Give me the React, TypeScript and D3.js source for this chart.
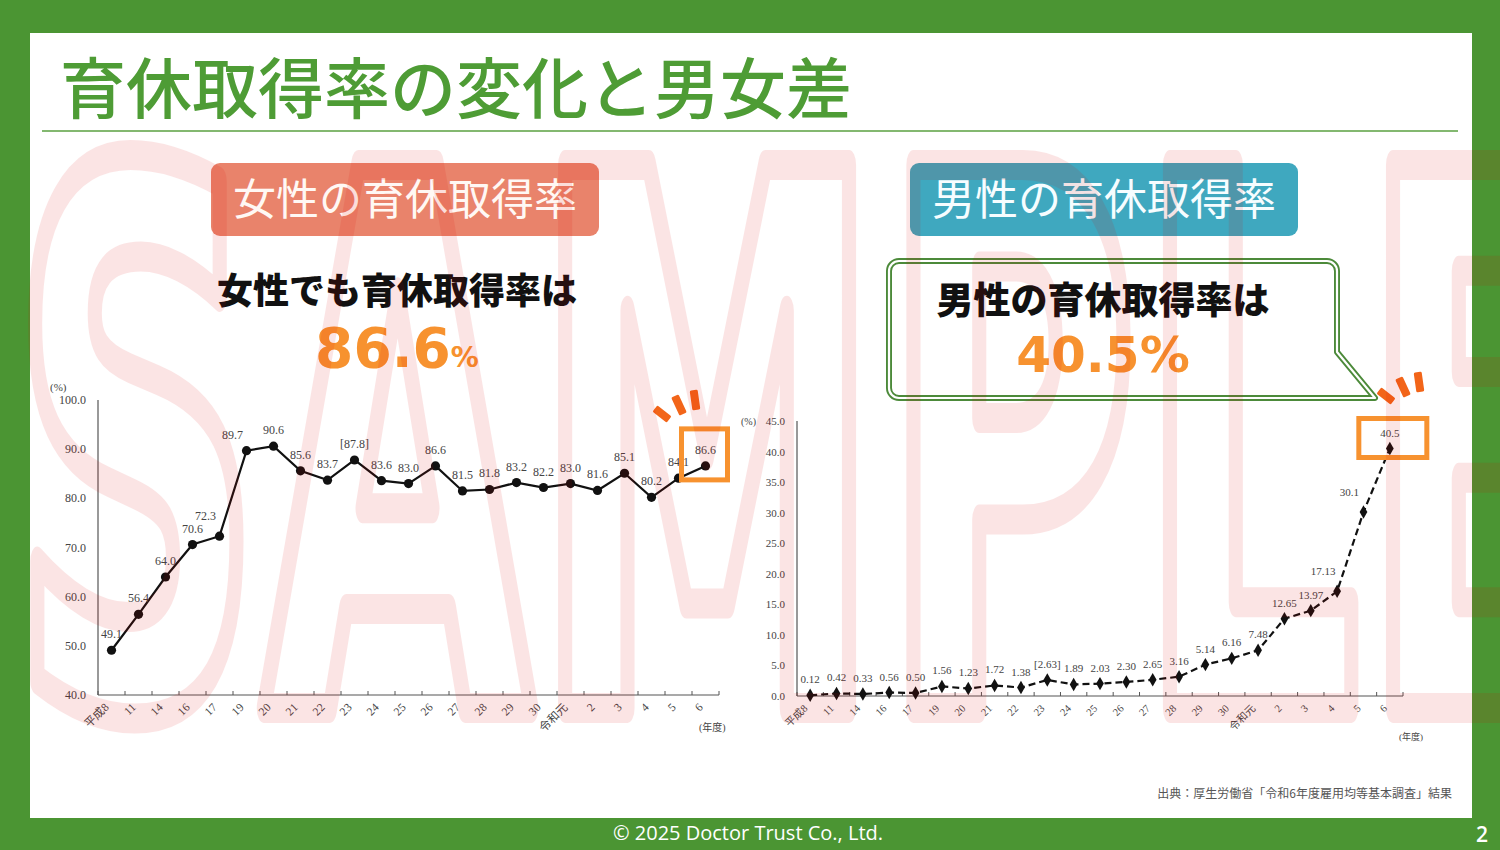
import React from "react";
import * as d3 from "d3";

// ---------- data ----------
const femaleYears = ["平成8","11","14","16","17","19","20","21","22","23","24","25","26","27","28","29","30","令和元","2","3","4","5","6"];
const femaleRates = [49.1,56.4,64.0,70.6,72.3,89.7,90.6,85.6,83.7,87.8,83.6,83.0,86.6,81.5,81.8,83.2,82.2,83.0,81.6,85.1,80.2,84.1,86.6];
const femaleLabels = ["49.1","56.4","64.0","70.6","72.3","89.7","90.6","85.6","83.7","[87.8]","83.6","83.0","86.6","81.5","81.8","83.2","82.2","83.0","81.6","85.1","80.2","84.1","86.6"];
const femaleTicks = [40,50,60,70,80,90,100];

const maleYears = ["平成8","11","14","16","17","19","20","21","22","23","24","25","26","27","28","29","30","令和元","2","3","4","5","6"];
const maleRates = [0.12,0.42,0.33,0.56,0.50,1.56,1.23,1.72,1.38,2.63,1.89,2.03,2.30,2.65,3.16,5.14,6.16,7.48,12.65,13.97,17.13,30.1,40.5];
const maleLabels = ["0.12","0.42","0.33","0.56","0.50","1.56","1.23","1.72","1.38","[2.63]","1.89","2.03","2.30","2.65","3.16","5.14","6.16","7.48","12.65","13.97","17.13","30.1","40.5"];
const maleTicks = [0,5,10,15,20,25,30,35,40,45];

const W = 1500, H = 850;
const GREEN = "#4b9533";
const ORANGE = "#f7922f";
const BURST = "#f26519";
const SERIF = "'Liberation Serif','DejaVu Serif','Noto Sans CJK JP',serif";
const CJK = "'Noto Sans CJK JP','Noto Sans',sans-serif";

type ChartProps = {
  years: string[]; values: number[]; labels: string[]; ticks: number[];
  x: d3.ScaleBand<number>; y: d3.ScaleLinear<number, number>;
  dashed: boolean; diamond: boolean; fs: number;
  pctX: number; pctY: number; nendoX: number; nendoY: number;
};

function LineChart(p: ChartProps) {
  const { x, y } = p;
  const [x0, x1] = x.range();
  const [yb, yt] = y.range();
  const n = p.values.length;
  const cx = (i: number) => (x(i) as number) + x.bandwidth() / 2;
  const line = d3.line<number>().x((_, i) => cx(i)).y((d) => y(d));
  const diamond = d3.symbol().type(d3.symbolDiamond).size(52)() as string;
  return (
    <g>
      {/* axes */}
      <line x1={x0} x2={x0} y1={yt} y2={yb} stroke="#555" strokeWidth={1.2} />
      <line x1={x0} x2={x1} y1={yb} y2={yb} stroke="#555" strokeWidth={1.2} />
      {d3.range(n + 1).map((i) => {
        const xx = i < n ? (x(i) as number) : x1;
        return <line key={"t" + i} x1={xx} x2={xx} y1={yb} y2={yb - 4} stroke="#555" strokeWidth={1} />;
      })}
      {p.ticks.map((t) => (
        <text key={"y" + t} x={x0 - 12} y={y(t) + 4} textAnchor="end" fontFamily={SERIF} fontSize={p.fs} fill="#444">
          {t.toFixed(1)}
        </text>
      ))}
      {p.years.map((lab, i) => (
        <text key={"x" + i} transform={`translate(${cx(i) - 2},${yb + 13}) rotate(-45)`} textAnchor="end"
          fontFamily={SERIF} fontSize={p.fs - 0.5} fill="#444">{lab}</text>
      ))}
      <text x={p.pctX} y={p.pctY} fontFamily={SERIF} fontSize={p.fs - 1} fill="#444">(%)</text>
      <text x={p.nendoX} y={p.nendoY} fontFamily={SERIF} fontSize={p.fs - 2} fill="#444">(年度)</text>
      {/* line */}
      <path d={line(p.values) as string} fill="none" stroke="#111" strokeWidth={2.2}
        strokeDasharray={p.dashed ? "7,4" : undefined} />
      {p.values.map((v, i) =>
        p.diamond ? (
          <path key={"m" + i} d={diamond} transform={`translate(${cx(i)},${y(v)})`} fill="#111" />
        ) : (
          <circle key={"m" + i} cx={cx(i)} cy={y(v)} r={4.6} fill="#111" />
        )
      )}
      {p.values.map((v, i) => {
        const last = i === n - 1;
        const risePrev = i > 0 ? y(p.values[i - 1]) - y(v) : 0;
        const riseNext = !last ? y(v) - y(p.values[i + 1]) : 0;
        const dx = !last && Math.max(risePrev, riseNext) > 60 ? -14 : 0;
        const dy = !last && riseNext > 60 ? -16 : -12;
        return (
          <text key={"l" + i} x={cx(i) + dx} y={y(v) + dy} textAnchor="middle" fontFamily={SERIF}
            fontSize={p.fs} fill="#444">{p.labels[i]}</text>
        );
      })}
    </g>
  );
}

function Burst({ x, y }: { x: number; y: number }) {
  const marks = [
    { dx: 0, dy: 16, a: -52, h: 18 },
    { dx: 17, dy: 7, a: -25, h: 20 },
    { dx: 33, dy: 2, a: -8, h: 20 },
  ];
  return (
    <g>
      {marks.map((m, i) => (
        <rect key={i} x={-4} y={-m.h / 2} width={8} height={m.h} rx={1.5} fill={BURST}
          transform={`translate(${x + m.dx},${y + m.dy}) rotate(${m.a})`} />
      ))}
    </g>
  );
}

export default function App() {
  const xL = d3.scaleBand<number>().domain(d3.range(femaleRates.length)).range([98, 719]);
  const yL = d3.scaleLinear().domain([40, 100]).range([695, 400]);
  const xR = d3.scaleBand<number>().domain(d3.range(maleRates.length)).range([797, 1403]);
  const yR = d3.scaleLinear().domain([0, 45]).range([696, 421]);

  const lastL = femaleRates.length - 1;
  const lastR = maleRates.length - 1;
  const bxL = (xL(lastL) as number) + xL.bandwidth() / 2;
  const bxR = (xR(lastR) as number) + xR.bandwidth() / 2;

  const callout =
    "M 899 261 H 1327 A 10 10 0 0 1 1337 271 V 352 L 1375 398 H 899 A 10 10 0 0 1 889 388 V 271 A 10 10 0 0 1 899 261 Z";

  return (
    <svg width={W} height={H} style={{ position: "absolute", left: 0, top: 0, display: "block" }}>
      <rect x={0} y={0} width={W} height={H} fill={GREEN} />
      <rect x={30} y={33} width={1442} height={785} fill="#fff" />

      {/* title */}
      <text x={60} y={113} fontFamily={CJK} fontSize={66} fontWeight={500} fill="#4e9c35">育休取得率の変化と男女差</text>
      <line x1={42} x2={1458} y1={131} y2={131} stroke="#5aa040" strokeWidth={1.6} />

      {/* headers */}
      <rect x={211} y={163} width={388} height={73} rx={9} fill="#e9836b" />
      <text x={405} y={215} textAnchor="middle" fontFamily={CJK} fontSize={43} fill="#fff8f4">女性の育休取得率</text>
      <rect x={910} y={163} width={388} height={73} rx={9} fill="#3fa8bf" />
      <text x={1104} y={215} textAnchor="middle" fontFamily={CJK} fontSize={43} fill="#f6fdff">男性の育休取得率</text>

      {/* female headline */}
      <text x={397} y={304} textAnchor="middle" fontFamily={CJK} fontSize={36} fontWeight={900} fill="#111">女性でも育休取得率は</text>
      <text x={397} y={367} textAnchor="middle" fontFamily="'DejaVu Sans',sans-serif" fontWeight="bold" fill={ORANGE}>
        <tspan fontSize={55}>86.6</tspan><tspan fontSize={28}>%</tspan>
      </text>

      {/* male callout */}
      <path d={callout} fill="#fff" stroke="#4c8a3a" strokeWidth={6} strokeLinejoin="round" />
      <path d={callout} fill="none" stroke="#fff" strokeWidth={2.2} strokeLinejoin="round" />
      <text x={1103} y={314} textAnchor="middle" fontFamily={CJK} fontSize={37} fontWeight={900} fill="#111">男性の育休取得率は</text>
      <text x={1103} y={372} textAnchor="middle" fontFamily="'DejaVu Sans',sans-serif" fontWeight="bold" fontSize={50} fill={ORANGE}>40.5%</text>

      {/* charts */}
      <LineChart years={femaleYears} values={femaleRates} labels={femaleLabels} ticks={femaleTicks} x={xL} y={yL}
        dashed={false} diamond={false} fs={12} pctX={50} pctY={391} nendoX={699} nendoY={731} />
      <LineChart years={maleYears} values={maleRates} labels={maleLabels} ticks={maleTicks} x={xR} y={yR}
        dashed={true} diamond={true} fs={11} pctX={741} pctY={425} nendoX={1399} nendoY={740} />

      {/* highlight boxes */}
      <rect x={bxL - 24} y={yL(86.6) - 37} width={46} height={51} fill="none" stroke={ORANGE} strokeWidth={5} />
      <rect x={bxR - 31} y={yR(40.5) - 30} width={68} height={39} fill="none" stroke={ORANGE} strokeWidth={5} />
      <Burst x={662} y={398} />
      <Burst x={1386} y={380} />

      {/* source */}
      <text x={1452} y={798} textAnchor="end" fontFamily={CJK} fontSize={12} fill="#555">出典：厚生労働省「令和6年度雇用均等基本調査」結果</text>

      {/* footer */}
      <text x={748} y={840} textAnchor="middle" fontFamily="'Open Sans',sans-serif" fontSize={20} fill="#fff">© 2025 Doctor Trust Co., Ltd.</text>
      <text x={1482} y={842} textAnchor="middle" fontFamily="'Open Sans',sans-serif" fontSize={21} fontWeight={600} fill="#fff">2</text>

      {/* watermark (outlined letters) */}
      <g opacity={0.1} pointerEvents="none">
        <text x={10} y={708} fontFamily="'DejaVu Sans',sans-serif" fontWeight="bold" fontSize={745}
          textLength={1590} lengthAdjust="spacingAndGlyphs" fill="none" stroke="#e00000"
          strokeWidth={30} strokeLinejoin="round">SAMPLE</text>
      </g>
    </svg>
  );
}
